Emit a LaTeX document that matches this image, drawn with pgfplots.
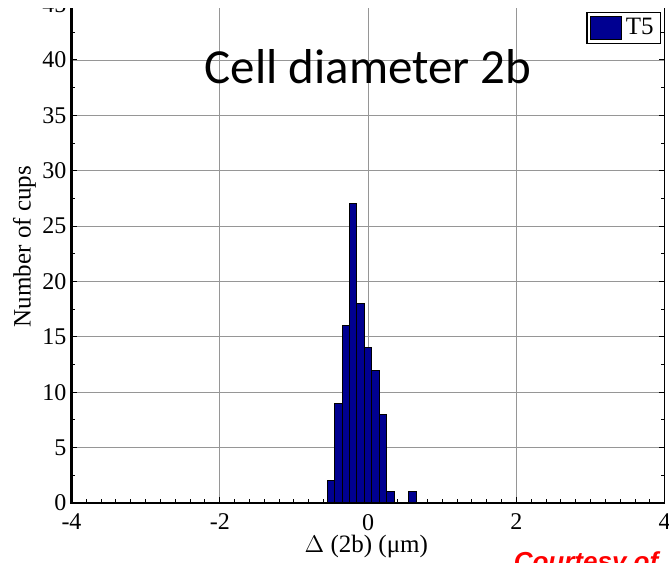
\documentclass[border=0pt]{standalone}
\usepackage{pgfplots}
\pgfplotsset{compat=1.18}
\usepackage{fontspec}
\setmainfont{Liberation Serif}
\newfontfamily\titlefont{Carlito}
\newfontfamily\arialfont{Liberation Sans}
\definecolor{barblue}{RGB}{0,0,145}
\definecolor{gridgray}{RGB}{150,150,150}
\begin{document}
\begin{tikzpicture}
\begin{scope}
\clip (-40pt,-40pt) rectangle (300pt,247pt);
\begin{axis}[
  scale only axis,
  width=296.6pt, height=276.9pt,
  xmin=-4, xmax=4, ymin=0, ymax=50,
  xtick={-4,-2,0,2,4},
  ytick={0,5,...,45},
  minor x tick num=9,
  minor y tick num=1,
  tick pos=both,
  tick align=inside,
  major tick length=3pt,
  minor tick length=1.8pt,
  every tick/.style={black, line width=0.5pt},
  xmajorgrids, ymajorgrids,
  grid style={gridgray, line width=0.4pt},
  axis line style={black, line width=0.5pt},
  tick label style={font=\fontsize{12}{13}\selectfont},
  /pgf/number format/assume math mode=true,
  yticklabel style={xshift=1pt},
  xticklabel style={yshift=-2pt},
  xlabel={$\Delta$ (2b) (μm)},
  ylabel={Number of cups},
  label style={font=\fontsize{12.5}{14}\selectfont},
  xlabel style={at={(axis description cs:0.497,0)}, anchor=center, yshift=-21.5pt},
  ylabel style={at={(axis description cs:0,0.463)}, anchor=center, yshift=23.5pt},
  legend style={at={(0.994,0.887)}, anchor=north east, draw=black, line width=0.6pt,
    inner xsep=1.5pt, inner ysep=1pt, font=\fontsize{12.5}{13}\selectfont},
  legend image code/.code={\draw[#1, line width=0.4pt] (0pt,-5.75pt) rectangle (15.5pt,5.75pt);},
  clip=false,
]
\addplot[ybar, bar width=0.1, fill=barblue, draw=black, line width=0.5pt]
  coordinates {(-0.5,2) (-0.4,9) (-0.3,16) (-0.2,27) (-0.1,18) (0,14) (0.1,12) (0.2,8) (0.3,1) (0.6,1)};
\addlegendentry{T5}
\draw[black, line width=1.3pt] (rel axis cs:0,1) -- (rel axis cs:0,0) -- (rel axis cs:1,0);
\node[anchor=base, font=\titlefont\fontsize{24.5}{26}\selectfont] at (axis cs:0,37.9) {Cell diameter 2b};
\node[anchor=base west, text=red, font=\arialfont\bfseries\itshape\fontsize{13}{14}\selectfont] at (axis cs:1.87,-6.1) {Courtesy of};
\end{axis}
\end{scope}
\pgfresetboundingbox
\useasboundingbox (-35.75pt,-29.5pt) rectangle (298.75pt,251.5pt);
\end{tikzpicture}
\end{document}
